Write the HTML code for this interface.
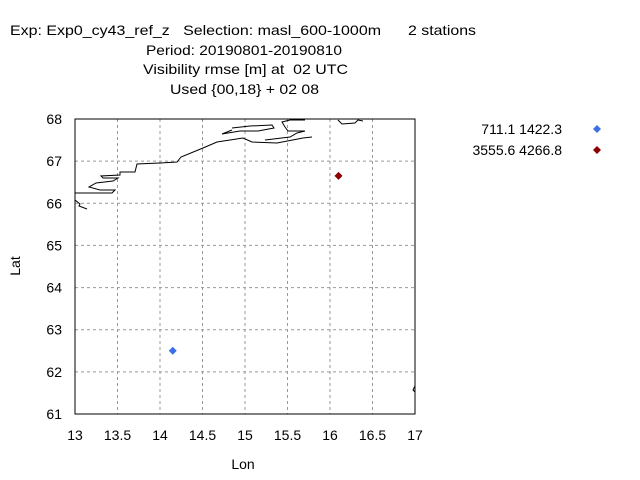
<!DOCTYPE html>
<html><head><meta charset="utf-8"><style>
body{margin:0;background:#fff;}
svg{display:block;font-family:"Liberation Sans",sans-serif;font-size:14px;}
</style></head><body>
<svg id="chart" width="640" height="480" xmlns="http://www.w3.org/2000/svg">
<g>
<text x="10" y="35" textLength="371" lengthAdjust="spacingAndGlyphs" xml:space="preserve">Exp: Exp0_cy43_ref_z   Selection: masl_600-1000m</text>
<text x="408" y="35" textLength="68" lengthAdjust="spacingAndGlyphs">2 stations</text>
<text x="146" y="55" textLength="196" lengthAdjust="spacingAndGlyphs">Period: 20190801-20190810</text>
<text x="143" y="74" textLength="205" lengthAdjust="spacingAndGlyphs" xml:space="preserve">Visibility rmse [m] at  02 UTC</text>
<text x="170" y="94" textLength="149" lengthAdjust="spacingAndGlyphs">Used {00,18} + 02 08</text>
</g>
<g id="grid"></g>
<g id="coast" fill="none" stroke="#000" stroke-width="1">
<polyline points="75,193 112,193 115,190 100,190 89,187 96,183 113,181 118,178 103,178 101,176 120,175 120,172 135,172 137,164 160,163 177,162 181,157 203,148 217,142 243,138 252,142 277,143 303,138 312,137"/>
<polyline points="75,200 80,204 79,206 87,209"/>
<polyline points="232,128 250,126 272,125 274,128 258,131 240,131 222,134 232,130"/>
<polyline points="265,140 290,137 297,133 305,131 288,131 285,127 282,122 290,120 305,120"/>
<polyline points="338,120 342,124 355,123 358,120 363,121"/>
<polyline points="415,386 413,390 415,392"/>
</g>
<rect x="75" y="119" width="340" height="295" fill="none" stroke="#000"/>
<g id="axes"></g>
<text x="243" y="469" text-anchor="middle">Lon</text>
<text transform="translate(20,266) rotate(-90)" text-anchor="middle">Lat</text>
<g id="points"></g>
<g id="legend"></g>
</svg>
<script>
const lonTicks=[13,13.5,14,14.5,15,15.5,16,16.5,17];
const latTicks=[61,62,63,64,65,66,67,68];
const stationLon=[14.15,16.1];
const stationLat=[62.5,66.65];
const seriesLabels=["711.1 1422.3","3555.6 4266.8"];
const seriesColors=["#3a6fe8","#8b0000"];
const X0=75,X1=415,Y0=414,Y1=119;
const sx=v=>X0+(v-13)/(17-13)*(X1-X0);
const sy=v=>Y0-(v-61)/(68-61)*(Y0-Y1);
const NS="http://www.w3.org/2000/svg";
function mk(t,a,p){const e=document.createElementNS(NS,t);for(const k in a)e.setAttribute(k,a[k]);p.appendChild(e);return e;}
const grid=document.getElementById('grid'),axes=document.getElementById('axes');
lonTicks.forEach(v=>{
 const x=sx(v);
 if(v>13&&v<17){const l=mk('line',{x1:x,x2:x,y1:Y1,y2:Y0,stroke:'#999','stroke-dasharray':'3,3'},grid);
 
 }
 const t=mk('text',{x:x,y:440,'text-anchor':'middle'},axes);t.textContent=v;
 
 
});
latTicks.forEach(v=>{
 const y=sy(v);
 if(v>61&&v<68){const l=mk('line',{x1:X0,x2:X1,y1:y,y2:y,stroke:'#999','stroke-dasharray':'3,3'},grid);
 
 }
 const t=mk('text',{x:62,y:y+5,'text-anchor':'end'},axes);t.textContent=v;
 
 
});
const pts=document.getElementById('points'),leg=document.getElementById('legend');
function diamond(x,y){return `${x},${y-4} ${x+4},${y} ${x},${y+4} ${x-4},${y}`;}
stationLon.forEach((lon,i)=>{
 const p=mk('polygon',{points:diamond(sx(lon),sy(stationLat[i])),fill:seriesColors[i]},pts);
 
 
 const y=129+i*21;
 const t=mk('text',{x:562,y:y+5,'text-anchor':'end'},leg);t.textContent=seriesLabels[i];
 
 
 const m=mk('polygon',{points:diamond(597,y),fill:seriesColors[i]},leg);
 
 
});
</script>
</body></html>
